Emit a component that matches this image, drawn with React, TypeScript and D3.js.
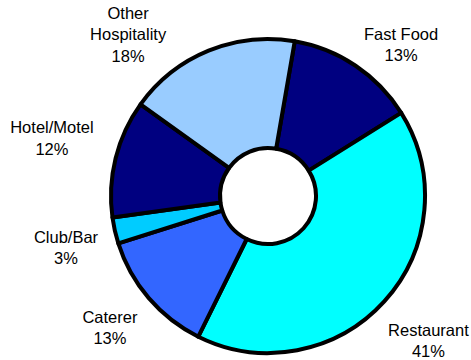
import React from "react";
import * as d3 from "d3";

const categories = ["Fast Food", "Restaurant", "Caterer", "Club/Bar", "Hotel/Motel", "Other Hospitality"];
const values = [13.4, 41.2, 12.8, 2.7, 12.1, 17.8];
const labelLines = [["Fast Food"], ["Restaurant"], ["Caterer"], ["Club/Bar"], ["Hotel/Motel"], ["Other", "Hospitality"]];
const colors = ["#000080", "#00FFFF", "#3366FF", "#00CCFF", "#000080", "#99CCFF"];

// label layout nudges relative to a polar anchor on each slice's mid-angle
const labelNudges: [number, number][] = [
  [18.7, 14.1],
  [8.6, 2.2],
  [-2.4, -6.5],
  [-2, 1.6],
  [-17.1, -13.4],
  [-62.3, 12.6],
];

const W = 471;
const H = 360;
const cx = 268;
const cy = 196;
const outerR = 157;
const innerR = 48;
const labelR = 205;
const startDeg = 9.8;
const lineH = 21.5;

export default function App() {
  const pie = d3
    .pie<number>()
    .sort(null)
    .startAngle((startDeg * Math.PI) / 180)
    .endAngle((startDeg * Math.PI) / 180 + 2 * Math.PI)(values);
  const arc = d3.arc<d3.PieArcDatum<number>>().innerRadius(innerR).outerRadius(outerR);
  const total = d3.sum(values);

  return (
    <svg
      width={W}
      height={H}
      style={{ position: "absolute", left: 0, top: 0, background: "#fff" }}
      fontFamily="'Liberation Sans', Arial, sans-serif"
    >
      <g transform={`translate(${cx},${cy})`}>
        {pie.map((d, i) => (
          <path key={i} d={arc(d) || ""} fill={colors[i]} stroke="#000" strokeWidth={4} strokeLinejoin="round" />
        ))}
      </g>
      {pie.map((d, i) => {
        const a = (d.startAngle + d.endAngle) / 2;
        const x = cx + labelR * Math.sin(a) + labelNudges[i][0];
        const y = cy - labelR * Math.cos(a) + labelNudges[i][1];
        const lines = [...labelLines[i], `${Math.round((values[i] / total) * 100)}%`];
        return (
          <text key={i} x={x} y={y} textAnchor="middle" fontSize={16.5} fill="#000">
            {lines.map((l, j) => (
              <tspan key={j} x={x} dy={j === 0 ? 0 : lineH}>
                {l}
              </tspan>
            ))}
          </text>
        );
      })}
    </svg>
  );
}
